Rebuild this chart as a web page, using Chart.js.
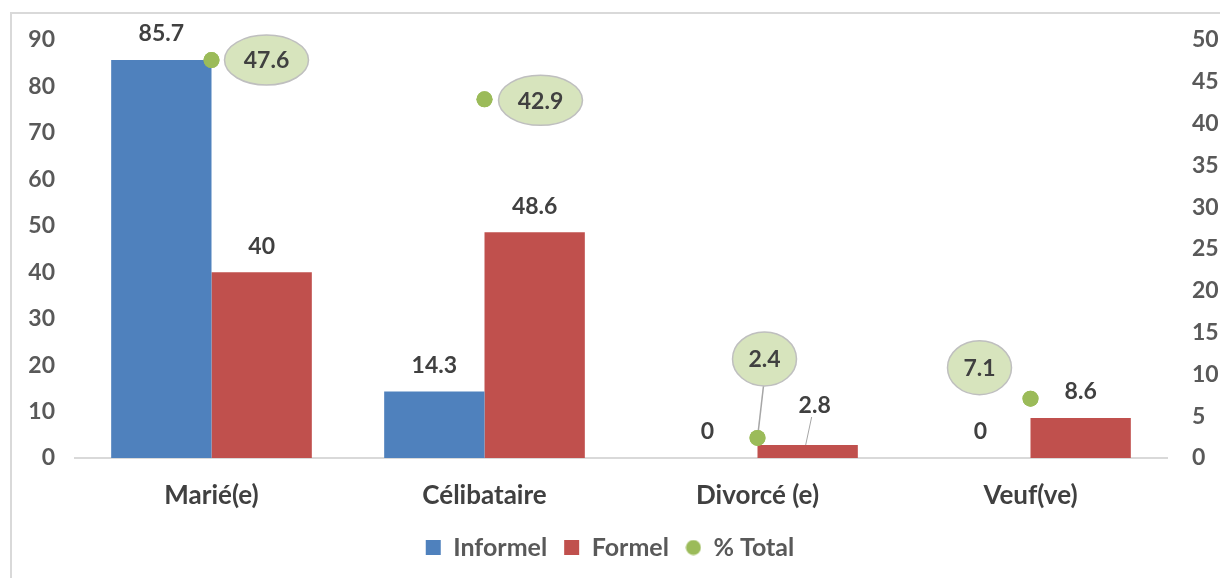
<!DOCTYPE html>
<html lang="fr">
<head>
    <meta charset="UTF-8">
    <title>Situation matrimoniale</title>
    <script src="https://cdn.jsdelivr.net/npm/chart.js"></script>
    <style>
        body { margin: 0; background: #fff; }
        #wrap { position: relative; width: 1220px; height: 578px; }
        #frame { position: absolute; left: 10px; top: 12px; width: 1220px; height: 600px; border: 2px solid #d9d9d9; box-sizing: border-box; }
        canvas { position: absolute; left: 0; top: 0; }
    </style>
</head>
<body>
<div id="wrap">
    <div id="frame"></div>
    <canvas id="chart" width="1220" height="578"></canvas>
</div>
<script>
// donnees
var categories = ["Marié(e)", "Célibataire", "Divorcé (e)", "Veuf(ve)"];
var informel = [85.7, 14.3, 0, 0];
var formel = [40, 48.6, 2.8, 8.6];
var pctTotal = [47.6, 42.9, 2.4, 7.1];

// placement des etiquettes (style, pas des donnees)
var bulleDecalage = [[55, 0], [56, 1], [7, -79], [-51, -31]];
var bulleTaille = [[84, 50], [84, 50], [64, 54], [64, 54]];
var formelDecalage = [[0, 0], [0, 0], [7, -13], [0, 0]];

var fontFam = "Lato, 'Open Sans', sans-serif";

// petit rond vert pour la legende (meme taille que les carres)
var rondLegende = document.createElement("canvas");
rondLegende.width = 16; rondLegende.height = 16;
(function () {
    var c = rondLegende.getContext("2d");
    c.fillStyle = "#9bbb59";
    c.beginPath();
    c.arc(8, 8, 7.5, 0, Math.PI * 2);
    c.fill();
})();

var etiquettes = {
    id: 'etiquettes',
    afterDatasetsDraw: function (chart) {
        var ctx = chart.ctx;
        ctx.save();
        ctx.font = "bold 23px " + fontFam;
        ctx.fillStyle = "#404040";
        ctx.textAlign = "center";
        ctx.textBaseline = "middle";

        // barres
        [0, 1].forEach(function (di) {
            var meta = chart.getDatasetMeta(di);
            meta.data.forEach(function (bar, i) {
                var off = di === 1 ? formelDecalage[i] : [0, 0];
                var tx = bar.x + off[0];
                var ty = bar.y - 26 + off[1];
                if (off[0] !== 0 || off[1] !== 0) {
                    ctx.strokeStyle = "#a6a6a6";
                    ctx.lineWidth = 1;
                    ctx.beginPath();
                    ctx.moveTo(tx - 3, ty + 11);
                    ctx.lineTo(bar.x - 2, bar.y);
                    ctx.stroke();
                }
                ctx.fillText(String(chart.data.datasets[di].data[i]), tx, ty);
            });
        });

        // bulles % Total
        var meta = chart.getDatasetMeta(2);
        meta.data.forEach(function (pt, i) {
            var cx = pt.x + bulleDecalage[i][0];
            var cy = pt.y + bulleDecalage[i][1];
            var rx = bulleTaille[i][0] / 2, ry = bulleTaille[i][1] / 2;
            if (Math.abs(bulleDecalage[i][1]) > 60) {
                ctx.strokeStyle = "#a6a6a6";
                ctx.lineWidth = 1.5;
                ctx.beginPath();
                ctx.moveTo(cx - 1, cy + ry);
                ctx.lineTo(pt.x, pt.y);
                ctx.stroke();
            }
            ctx.beginPath();
            ctx.ellipse(cx, cy, rx, ry, 0, 0, Math.PI * 2);
            ctx.fillStyle = "#d7e4bd";
            ctx.fill();
            ctx.strokeStyle = "#bfbfbf";
            ctx.lineWidth = 1.5;
            ctx.stroke();
            ctx.fillStyle = "#404040";
            ctx.fillText(String(pctTotal[i]), cx, cy + 1);
        });
        // redessiner les points par-dessus les traits
        meta.data.forEach(function (pt) { pt.draw(ctx); });
        ctx.restore();
    }
};

var ctx = document.getElementById("chart").getContext("2d");
var graphique = new Chart(ctx, {
    type: "bar",
    data: {
        labels: categories,
        datasets: [{
            label: "Informel",
            data: informel,
            backgroundColor: "#4f81bd",
            pointStyle: "rect",
            yAxisID: "y",
            order: 2
        }, {
            label: "Formel",
            data: formel,
            backgroundColor: "#c0504d",
            pointStyle: "rect",
            yAxisID: "y",
            order: 2
        }, {
            type: "line",
            label: "% Total",
            data: pctTotal,
            showLine: false,
            pointRadius: 8,
            pointHoverRadius: 8,
            pointBorderWidth: 0,
            pointStyle: "circle",
            backgroundColor: "#9bbb59",
            borderColor: "#9bbb59",
            yAxisID: "y1",
            order: 1
        }]
    },
    options: {
        responsive: false,
        animation: false,
        layout: { padding: { top: 40, bottom: 8, left: 0, right: 0 } },
        datasets: {
            bar: { categoryPercentage: 0.735, barPercentage: 1.0 }
        },
        plugins: {
            tooltip: { enabled: false },
            legend: {
                position: "bottom",
                labels: {
                    usePointStyle: true,
                    boxWidth: 15,
                    boxHeight: 15,
                    padding: 17,
                    color: "#595959",
                    font: { family: fontFam, size: 25, weight: "bold" },
                    sort: function (a, b) { return a.datasetIndex - b.datasetIndex; },
                    generateLabels: function (chart) {
                        var items = Chart.defaults.plugins.legend.labels.generateLabels(chart);
                        items.forEach(function (it) {
                            if (it.datasetIndex === 2) it.pointStyle = rondLegende;
                        });
                        return items;
                    }
                }
            }
        },
        scales: {
            x: {
                grid: { display: false, drawTicks: false },
                border: { color: "#d9d9d9", width: 2 },
                ticks: {
                    padding: 22,
                    color: "#404040",
                    font: { family: fontFam, size: 26, weight: "bold" }
                },
                afterFit: function (s) { s.height = 60; }
            },
            y: {
                position: "left",
                min: 0, max: 90,
                ticks: {
                    stepSize: 10,
                    padding: 20,
                    color: "#595959",
                    font: { family: fontFam, size: 23, weight: "bold" }
                },
                grid: { display: false, drawTicks: false },
                border: { display: false },
                afterFit: function (s) { s.width = 75; }
            },
            y1: {
                position: "right",
                min: 0, max: 50,
                ticks: {
                    stepSize: 5,
                    padding: 25,
                    color: "#595959",
                    font: { family: fontFam, size: 23, weight: "bold" }
                },
                grid: { display: false, drawTicks: false },
                border: { display: false },
                afterFit: function (s) { s.width = 53; }
            }
        }
    },
    plugins: [etiquettes]
});
</script>
</body>
</html>
